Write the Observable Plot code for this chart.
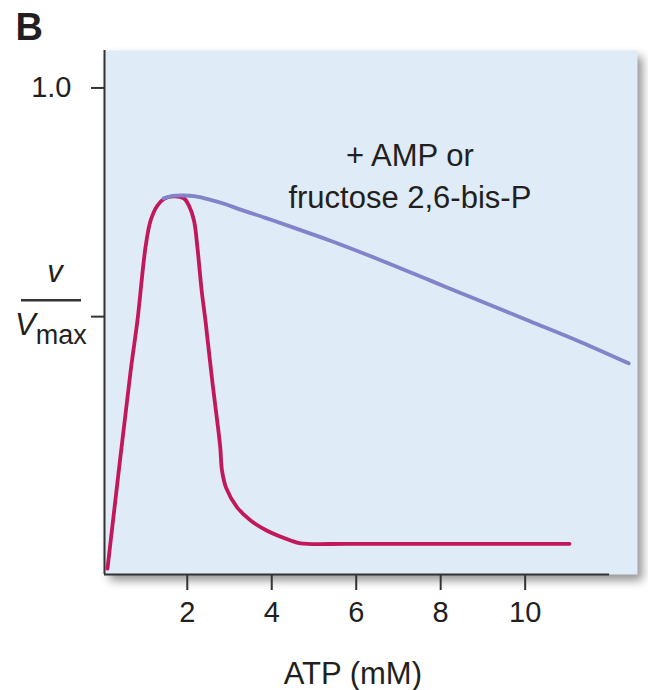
<!DOCTYPE html>
<html>
<head>
<meta charset="utf-8">
<script src="https://cdn.jsdelivr.net/npm/d3@7"></script>
<script src="https://cdn.jsdelivr.net/npm/@observablehq/plot@0.6"></script>
<style>
  html, body { margin: 0; padding: 0; background: #fff; }
  #chart svg [aria-label="frame"] { filter: drop-shadow(5px 6px 5px rgba(0,0,0,0.42)); }
</style>
</head>
<body>
<div id="chart"></div>
<script>
// ---- data ----
const atpRed = [0.11, 0.66, 0.82, 1.01, 1.13, 1.29, 1.45, 1.68, 1.92, 2.04, 2.16, 2.24, 2.34, 2.43, 2.59, 2.78, 2.82, 2.92, 3.18, 3.50, 3.89, 4.45, 4.68, 5.86, 11.05];
const vRed   = [0.012, 0.419, 0.522, 0.672, 0.727, 0.758, 0.772, 0.777, 0.773, 0.758, 0.727, 0.672, 0.584, 0.522, 0.399, 0.262, 0.215, 0.178, 0.138, 0.111, 0.090, 0.070, 0.064, 0.063, 0.063];
const atpBlue = [1.44, 1.65, 1.91, 2.20, 2.55, 2.91, 3.26, 3.85, 4.45, 5.39, 6.58, 7.76, 8.94, 10.13, 11.31, 12.45];
const vBlue   = [0.773, 0.778, 0.779, 0.777, 0.770, 0.761, 0.750, 0.733, 0.715, 0.686, 0.646, 0.604, 0.562, 0.520, 0.478, 0.434];
const xTicks = [2, 4, 6, 8, 10];
const yTicks = [0.53, 1.0];
const yTickLabels = ["", "1.0"];
const annotation = ["+ AMP or\nfructose 2,6-bis-P"];
const annX = [7.27], annY = [0.902];
const xLabel = ["ATP (mM)"];
const xLabelPos = [5.92];
const panel = ["B"];

const red = atpRed.map((x, i) => ({x, y: vRed[i]}));
const blue = atpBlue.map((x, i) => ({x, y: vBlue[i]}));
const ink = "#231f20";
const font = "'Liberation Sans', Arial, Helvetica, sans-serif";

const plot = Plot.plot({
  width: 648,
  height: 690,
  marginLeft: 104,
  marginRight: 11,
  marginTop: 50,
  marginBottom: 116,
  style: {fontFamily: font, color: ink, background: "white", overflow: "visible"},
  x: {domain: [0.04, 12.66]},
  y: {domain: [0, 1.077]},
  marks: [
    Plot.frame({fill: "#dfebf7", stroke: null}),
    Plot.ruleX([0.04], {y1: 0, y2: 1.077, stroke: "#333", strokeWidth: 2}),
    Plot.ruleY([0], {x1: 0.04, x2: 12.0, stroke: "#333", strokeWidth: 2}),
    Plot.axisX({ticks: xTicks, tickSize: 16, tickPadding: 11, fontSize: 29, label: null, stroke: "#333", strokeWidth: 2}),
    Plot.axisY({ticks: yTicks, tickSize: 13, tickPadding: 20, fontSize: 29, label: null, stroke: "#333", strokeWidth: 2,
      tickFormat: d => yTickLabels[yTicks.indexOf(d)]}),
    Plot.line(red, {x: "x", y: "y", stroke: "#c2185b", strokeWidth: 3.8, curve: "catmull-rom"}),
    Plot.line(blue, {x: "x", y: "y", stroke: "#8383c9", strokeWidth: 3.8, curve: "catmull-rom"}),
    Plot.text(annotation, {x: annX, y: annY, text: d => d, lineAnchor: "top", lineHeight: 1.36, fontSize: 31, fill: ink, textAnchor: "middle"}),
    Plot.text(xLabel, {x: xLabelPos, frameAnchor: "bottom", dy: 87, lineAnchor: "top", fontSize: 31, fill: ink, textAnchor: "middle"}),
    Plot.text(panel, {frameAnchor: "top-left", dx: -89, dy: -37, lineAnchor: "top", textAnchor: "start", fontSize: 38, fontWeight: "bold", fill: ink})
  ]
});

// v / Vmax fraction label beside the middle y tick
const svg = d3.select(plot);
const yMid = plot.scale("y").apply(yTicks[0]);
const g = svg.append("g").attr("font-family", font).attr("fill", ink).attr("text-anchor", "start");
g.append("text").attr("x", 55).attr("y", yMid - 34).attr("text-anchor", "middle")
  .attr("font-size", 31).attr("font-style", "italic").text("v");
g.append("line").attr("x1", 21).attr("x2", 81).attr("y1", yMid - 16).attr("y2", yMid - 16)
  .attr("stroke", "#333").attr("stroke-width", 2.5);
const t = g.append("text").attr("x", 15).attr("y", yMid + 19).attr("font-size", 31).attr("text-anchor", "start");
t.append("tspan").attr("font-style", "italic").text("V");
t.append("tspan").attr("dy", 9).attr("font-size", 27).text("max");

document.getElementById("chart").appendChild(plot);
</script>
</body>
</html>
